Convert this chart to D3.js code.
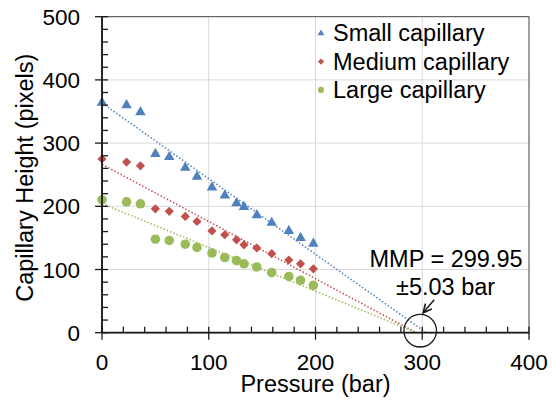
<!DOCTYPE html>
<html>
<head>
<meta charset="utf-8">
<script src="https://cdn.jsdelivr.net/npm/d3@7"></script>
<style>
  body { margin: 0; background: #fff; }
  svg { display: block; font-family: "Liberation Sans", Arial, sans-serif; }
</style>
</head>
<body>
<svg id="chart"></svg>
<script>
// values
const pressure = [0, 23, 36, 50, 63, 78, 89, 103, 115, 126, 133, 145, 159, 175, 186, 198];
const smallCap = [364, 360, 349, 283, 278, 261, 247, 230, 217, 205, 199, 186, 174, 161, 150, 141];
const mediumCap = [275, 270, 264, 196, 192, 184, 176, 161, 155, 147, 139, 134, 125, 115, 109, 101];
const largeCap = [210, 207, 204, 148, 146, 140, 135, 126, 119, 114, 109, 104, 95, 89, 83, 75];
const seriesNames = ["Small capillary", "Medium capillary", "Large capillary"];
const xTicks = [0, 100, 200, 300, 400];
const yTicks = [0, 100, 200, 300, 400, 500];
const mmp = 299.95;
const mmpLabel = ["MMP = 299.95", "±5.03 bar"];

const series = [
  { name: seriesNames[0], values: smallCap, color: "#4F81BD", shape: "triangle" },
  { name: seriesNames[1], values: mediumCap, color: "#C0504D", shape: "diamond" },
  { name: seriesNames[2], values: largeCap, color: "#9BBB59", shape: "circle" }
];

const svg = d3.select("#chart").attr("width", 553).attr("height", 402);

const plotLeft = 102, plotRight = 529, plotTop = 16.7, plotBottom = 332.7;
const x = d3.scaleLinear().domain([0, 400]).range([plotLeft, plotRight]);
const y = d3.scaleLinear().domain([0, 500]).range([plotBottom, plotTop]);

// grid
svg.append("g").selectAll("line").data(xTicks.slice(1, -1)).join("line")
  .attr("x1", d => x(d)).attr("x2", d => x(d))
  .attr("y1", plotTop).attr("y2", plotBottom)
  .attr("stroke", "#d9d9d9").attr("stroke-width", 1);
svg.append("g").selectAll("line").data(yTicks.slice(1, -1)).join("line")
  .attr("x1", plotLeft).attr("x2", plotRight)
  .attr("y1", d => y(d)).attr("y2", d => y(d))
  .attr("stroke", "#d9d9d9").attr("stroke-width", 1);

// plot border
svg.append("rect")
  .attr("x", plotLeft).attr("y", plotTop)
  .attr("width", plotRight - plotLeft).attr("height", plotBottom - plotTop)
  .attr("fill", "none").attr("stroke", "#404040").attr("stroke-width", 1);

// trend lines (least squares, extended to zero height)
function fit(xs, ys) {
  const mx = d3.mean(xs), my = d3.mean(ys);
  const sxy = d3.sum(xs, (v, i) => (v - mx) * (ys[i] - my));
  const sxx = d3.sum(xs, v => (v - mx) * (v - mx));
  const slope = sxy / sxx;
  return { slope: slope, icpt: my - slope * mx };
}
const line = d3.line().x(d => x(d[0])).y(d => y(d[1]));
series.forEach(s => {
  const f = fit(pressure, s.values);
  const xEnd = -f.icpt / f.slope;
  svg.append("path")
    .attr("d", line([[0, f.icpt], [xEnd, 0]]))
    .attr("fill", "none")
    .attr("stroke", s.color)
    .attr("stroke-width", 1.5)
    .attr("stroke-dasharray", "1.5,2");
});

// markers
function symbolFor(shape, big) {
  if (shape === "triangle") return d3.symbol(d3.symbolTriangle, big ? 48 : 20)();
  if (shape === "diamond") return d3.symbol(d3.symbolSquare, big ? 42 : 20)();
  return d3.symbol(d3.symbolCircle, big ? 72 : 30)();
}
series.forEach(s => {
  svg.append("g").selectAll("path").data(s.values).join("path")
    .attr("d", symbolFor(s.shape, true))
    .attr("transform", (d, i) => `translate(${x(pressure[i])},${y(d)})` + (s.shape === "diamond" ? " rotate(45)" : ""))
    .attr("fill", s.color);
});

// axes lines
svg.append("line").attr("x1", plotLeft).attr("x2", plotLeft).attr("y1", plotTop).attr("y2", plotBottom)
  .attr("stroke", "#1a1a1a").attr("stroke-width", 1.8);
svg.append("line").attr("x1", plotLeft).attr("x2", plotRight).attr("y1", plotBottom).attr("y2", plotBottom)
  .attr("stroke", "#1a1a1a").attr("stroke-width", 1.8);

// ticks
const xMinor = d3.range(0, 401, 20).filter(v => v % 100 !== 0);
const yMinor = d3.range(0, 501, 20).filter(v => v % 100 !== 0);
svg.append("g").selectAll("line").data(xTicks).join("line")
  .attr("x1", d => x(d)).attr("x2", d => x(d))
  .attr("y1", plotBottom - 6).attr("y2", plotBottom + 7)
  .attr("stroke", "#1a1a1a").attr("stroke-width", 1.3);
svg.append("g").selectAll("line").data(xMinor).join("line")
  .attr("x1", d => x(d)).attr("x2", d => x(d))
  .attr("y1", plotBottom - 6).attr("y2", plotBottom)
  .attr("stroke", "#1a1a1a").attr("stroke-width", 1.3);
svg.append("g").selectAll("line").data(yTicks).join("line")
  .attr("x1", plotLeft - 7).attr("x2", plotLeft + 6)
  .attr("y1", d => y(d)).attr("y2", d => y(d))
  .attr("stroke", "#1a1a1a").attr("stroke-width", 1.3);
svg.append("g").selectAll("line").data(yMinor).join("line")
  .attr("x1", plotLeft).attr("x2", plotLeft + 6)
  .attr("y1", d => y(d)).attr("y2", d => y(d))
  .attr("stroke", "#1a1a1a").attr("stroke-width", 1.3);

// tick labels
svg.append("g").selectAll("text").data(xTicks).join("text")
  .attr("x", d => x(d)).attr("y", 369.5)
  .attr("text-anchor", "middle").attr("font-size", 22.5)
  .text(d => d);
svg.append("g").selectAll("text").data(yTicks).join("text")
  .attr("x", 80).attr("y", d => y(d) + 8)
  .attr("text-anchor", "end").attr("font-size", 22.5)
  .text(d => d);

// axis titles
svg.append("text").attr("x", (plotLeft + plotRight) / 2).attr("y", 391.5)
  .attr("text-anchor", "middle").attr("font-size", 23.5)
  .text("Pressure (bar)");
svg.append("text")
  .attr("transform", `translate(33,${(plotTop + plotBottom) / 2 + 3}) rotate(-90)`)
  .attr("text-anchor", "middle").attr("font-size", 23.5)
  .text("Capillary Height (pixels)");

// legend
series.forEach((s, i) => {
  const cy = 33.3 + i * 28.3;
  svg.append("path")
    .attr("d", symbolFor(s.shape, false))
    .attr("transform", `translate(321,${cy})` + (s.shape === "diamond" ? " rotate(45)" : ""))
    .attr("fill", s.color);
  svg.append("text").attr("x", 333).attr("y", cy + 8)
    .attr("font-size", 23.5).text(s.name);
});

// MMP annotation
svg.append("circle")
  .attr("cx", x(mmp) - 2).attr("cy", y(0) - 2).attr("r", 16.3)
  .attr("fill", "none").attr("stroke", "#1a1a1a").attr("stroke-width", 1.3);
svg.append("defs").append("marker")
  .attr("id", "arrow").attr("viewBox", "0 0 10 10")
  .attr("refX", 9).attr("refY", 5)
  .attr("markerWidth", 7).attr("markerHeight", 7)
  .attr("orient", "auto")
  .append("path").attr("d", "M1,1 L9,5 L1,9")
  .attr("fill", "none").attr("stroke", "#1a1a1a").attr("stroke-width", 1.6);
svg.append("line")
  .attr("x1", x(mmp) + 12).attr("y1", y(0) - 33)
  .attr("x2", x(mmp) + 1).attr("y2", y(0) - 20)
  .attr("stroke", "#1a1a1a").attr("stroke-width", 1.5)
  .attr("marker-end", "url(#arrow)");
svg.append("text").attr("x", 369.5).attr("y", 267)
  .attr("font-size", 23.5).text(mmpLabel[0]);
svg.append("text").attr("x", 396).attr("y", 294.5)
  .attr("font-size", 23.5).text(mmpLabel[1]);
</script>
</body>
</html>
